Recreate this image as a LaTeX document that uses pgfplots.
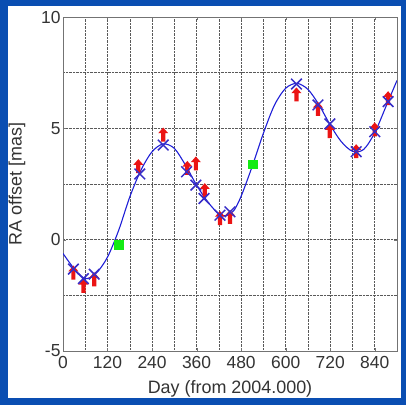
\documentclass[border=0pt]{standalone}
\usepackage{pgfplots}
\pgfplotsset{compat=1.18}
\usepackage{fontspec}
\setmainfont{Liberation Sans}
\definecolor{slideblue}{RGB}{10,78,178}
\definecolor{curveblue}{RGB}{30,30,215}
\definecolor{xblue}{RGB}{55,45,200}
\definecolor{arrred}{RGB}{235,20,20}
\definecolor{mgreen}{RGB}{20,235,20}
\pgfdeclareplotmark{uparrow}{%
  \pgfpathmoveto{\pgfqpoint{0bp}{7.5bp}}%
  \pgfpathlineto{\pgfqpoint{5bp}{1.8bp}}%
  \pgfpathlineto{\pgfqpoint{2.1bp}{1.8bp}}%
  \pgfpathlineto{\pgfqpoint{2.1bp}{-6.5bp}}%
  \pgfpathlineto{\pgfqpoint{-2.1bp}{-6.5bp}}%
  \pgfpathlineto{\pgfqpoint{-2.1bp}{1.8bp}}%
  \pgfpathlineto{\pgfqpoint{-5bp}{1.8bp}}%
  \pgfpathclose
  \pgfusepathqfill}
\begin{document}
\begin{tikzpicture}
\fill[slideblue] (0,0) rectangle (406bp,-405bp);
\fill[white] (8bp,-6bp) rectangle (401bp,-398bp);
\begin{axis}[
  at={(63bp,-17bp)}, anchor=north west,
  scale only axis, width=334bp, height=334bp,
  xmin=0, xmax=900, ymin=-5, ymax=10,
  xtick={0,120,...,840}, minor xtick={60,180,...,900},
  ytick={-5,0,5,10}, minor ytick={-2.5,2.5,7.5},
  grid=both,
  major grid style={densely dotted, black!65, line width=0.55pt},
  minor grid style={densely dotted, black!65, line width=0.55pt},
  axis line style={black!55, line width=0.7pt},
  tick style={black!55},
  major tick length=3bp, minor tick length=0bp,
  tick align=inside,
  ticklabel style={font=\fontsize{17.5}{19}\selectfont, text=black!80},
  /pgf/number format/assume math mode=true,
  xticklabel style={yshift=-1.5bp},
  yticklabel style={xshift=1bp},
  xlabel={Day (from 2004.000)},
  ylabel={RA offset [mas]},
  label style={font=\fontsize{18}{20}\selectfont, text=black!80},
  xlabel style={yshift=-5bp},
  ylabel style={yshift=9bp},
  clip=true,
]
% red arrows (measurements)
\addplot[only marks, mark=uparrow, color=arrred] coordinates {
 (28,-1.5) (55,-2.1) (84,-1.8) (203,3.28) (270,4.7) (335,3.2) (358,3.4)
 (382,2.2) (423,0.95) (450,1.0) (629,6.5) (687,5.85) (719,4.85)
 (790,3.95) (840,4.93) (876,6.33)};
% fitted curve
\addplot[smooth, color=curveblue, line width=1.1pt] coordinates {
 (0,-0.62) (30,-1.3) (60,-1.75) (90,-1.5) (120,-0.78) (150,0.42)
 (180,1.92) (210,3.12) (240,3.95) (270,4.3) (300,4.1) (330,3.35)
 (360,2.45) (390,1.7) (420,1.15) (440,1.08) (460,1.3) (480,1.95)
 (510,3.3) (540,4.78) (570,6.05) (600,6.8) (630,7.02) (660,6.75)
 (690,6.05) (720,5.15) (750,4.4) (780,3.97) (810,4.05) (840,4.8)
 (870,5.97) (900,7.15)};
% model positions
\addplot[only marks, mark=x, mark size=7.5bp, color=xblue, line width=1.5pt] coordinates {
 (28,-1.32) (55,-1.75) (84,-1.55) (207,2.95) (270,4.25) (333,3.05)
 (358,2.45) (380,1.85) (423,1.1) (450,1.25) (629,6.99) (687,6.05)
 (719,5.2) (790,3.95) (840,4.85) (876,6.2)};
% green squares
\addplot[only marks, mark=square*, mark size=4.2bp, color=mgreen] coordinates {
 (150,-0.22) (511,3.38)};
\end{axis}
\end{tikzpicture}
\end{document}
